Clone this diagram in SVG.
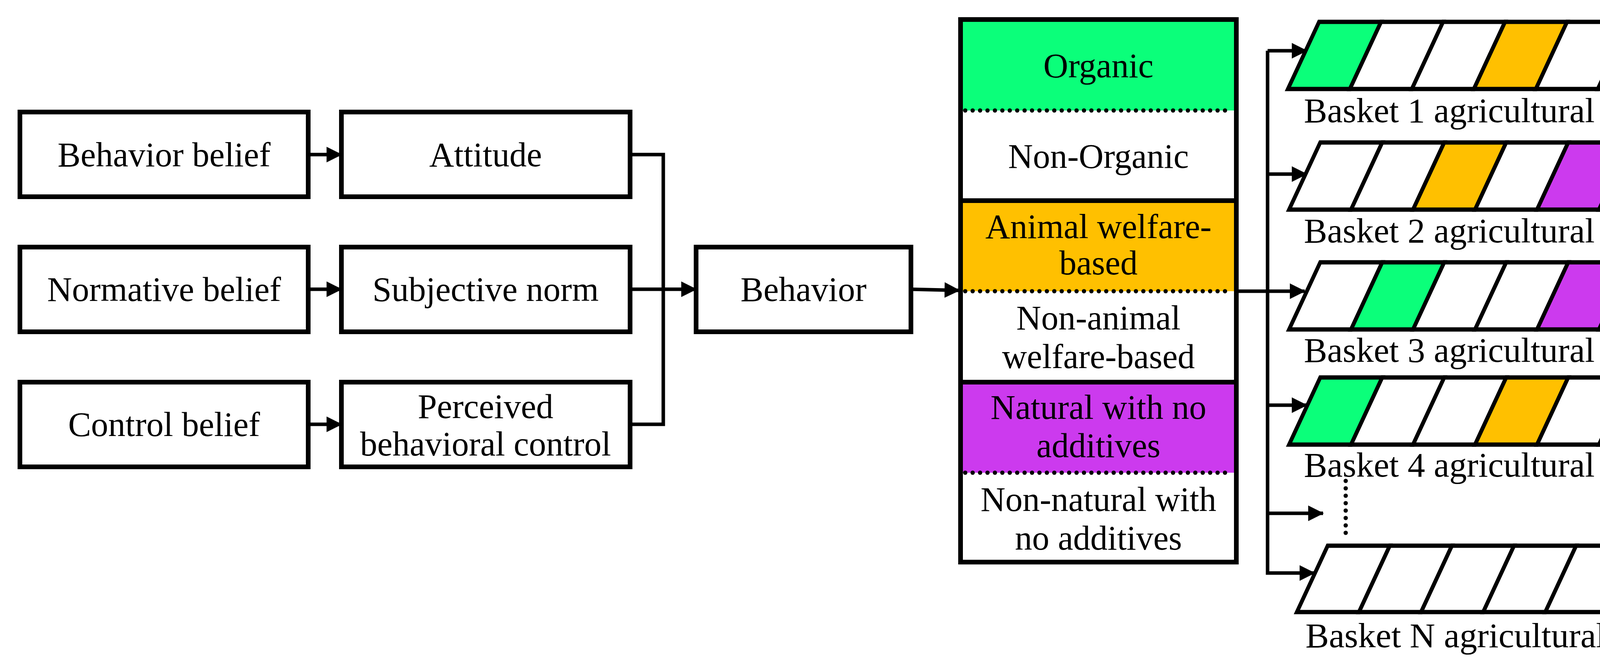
<svg xmlns="http://www.w3.org/2000/svg" width="4413" height="1719" viewBox="0 0 4413 1719">
<style>
.b{fill:#fff;stroke:#000;stroke-width:12}
.t{font-family:"Liberation Serif",serif;font-size:88px;text-anchor:middle;dominant-baseline:central;fill:#000}
.c{fill:none;stroke:#000;stroke-width:9}
.d{fill:none;stroke:#000;stroke-width:11;stroke-linecap:round;stroke-dasharray:0 19}
.cell{stroke:#000;stroke-width:11;fill:#fff}
.g{fill:#0BFF7A}.o{fill:#FFC000}.p{fill:#CC3AEE}
</style>
<defs>
<marker id="a" markerUnits="userSpaceOnUse" markerWidth="40" markerHeight="44" refX="38" refY="22" orient="auto"><path d="M0,2 L40,22 L0,42 Z" fill="#000"/></marker>
</defs>
<rect width="4413" height="1719" fill="#fff"/>
<g id="behavior-belief"><rect class="b" x="51" y="287" width="738" height="217"/><text class="t" x="420" y="396">Behavior belief</text></g>
<g id="attitude"><rect class="b" x="874" y="287" width="739" height="217"/><text class="t" x="1243" y="396">Attitude</text></g>
<g id="normative-belief"><rect class="b" x="51" y="633" width="738" height="217"/><text class="t" x="420" y="741">Normative belief</text></g>
<g id="subjective-norm"><rect class="b" x="874" y="633" width="739" height="217"/><text class="t" x="1243" y="741">Subjective norm</text></g>
<g id="control-belief"><rect class="b" x="51" y="979" width="738" height="217"/><text class="t" x="420" y="1087">Control belief</text></g>
<g id="pbc"><rect class="b" x="874" y="979" width="739" height="217"/><text class="t" x="1243" y="1041">Perceived</text><text class="t" x="1243" y="1137">behavioral control</text></g>
<g id="behavior"><rect class="b" x="1782" y="633" width="550" height="217"/><text class="t" x="2057" y="741">Behavior</text></g>
<g id="categories">
<rect x="2459" y="50" width="706" height="233" class="g"/>
<rect x="2459" y="514" width="706" height="232" class="o"/>
<rect x="2459" y="979" width="706" height="232" class="p"/>
<rect x="2459" y="50" width="706" height="1390" fill="none" stroke="#000" stroke-width="12"/>
<line x1="2459" y1="514" x2="3165" y2="514" stroke="#000" stroke-width="12"/>
<line x1="2459" y1="979" x2="3165" y2="979" stroke="#000" stroke-width="12"/>
<line class="d" x1="2471" y1="283" x2="3155" y2="283"/>
<line class="d" x1="2471" y1="746" x2="3155" y2="746"/>
<line class="d" x1="2471" y1="1211" x2="3155" y2="1211"/>
<text class="t" x="2812" y="168">Organic</text>
<text class="t" x="2812" y="400">Non-Organic</text>
<text class="t" x="2812" y="580">Animal welfare-</text>
<text class="t" x="2812" y="673">based</text>
<text class="t" x="2812" y="814">Non-animal</text>
<text class="t" x="2812" y="913">welfare-based</text>
<text class="t" x="2812" y="1043">Natural with no</text>
<text class="t" x="2812" y="1141">additives</text>
<text class="t" x="2812" y="1279">Non-natural with</text>
<text class="t" x="2812" y="1378">no additives</text>
</g>
<g id="basket1" transform="translate(3297,228) skewX(-24.9)">
<rect class="cell g" x="0" y="-172" width="158.7" height="172"/><rect class="cell" x="158.7" y="-172" width="158.7" height="172"/><rect class="cell" x="317.4" y="-172" width="158.7" height="172"/><rect class="cell o" x="476.1" y="-172" width="158.7" height="172"/><rect class="cell" x="634.8" y="-172" width="158.7" height="172"/><rect class="cell" x="793.5" y="-172" width="158.7" height="172"/>
</g>
<g id="basket2" transform="translate(3300,537) skewX(-24.9)">
<rect class="cell" x="0" y="-172" width="158.7" height="172"/><rect class="cell" x="158.7" y="-172" width="158.7" height="172"/><rect class="cell o" x="317.4" y="-172" width="158.7" height="172"/><rect class="cell" x="476.1" y="-172" width="158.7" height="172"/><rect class="cell p" x="634.8" y="-172" width="158.7" height="172"/><rect class="cell" x="793.5" y="-172" width="158.7" height="172"/>
</g>
<g id="basket3" transform="translate(3300,844) skewX(-24.9)">
<rect class="cell" x="0" y="-172" width="158.7" height="172"/><rect class="cell g" x="158.7" y="-172" width="158.7" height="172"/><rect class="cell" x="317.4" y="-172" width="158.7" height="172"/><rect class="cell" x="476.1" y="-172" width="158.7" height="172"/><rect class="cell p" x="634.8" y="-172" width="158.7" height="172"/><rect class="cell p" x="793.5" y="-172" width="158.7" height="172"/>
</g>
<g id="basket4" transform="translate(3300,1139) skewX(-24.9)">
<rect class="cell g" x="0" y="-172" width="158.7" height="172"/><rect class="cell" x="158.7" y="-172" width="158.7" height="172"/><rect class="cell" x="317.4" y="-172" width="158.7" height="172"/><rect class="cell o" x="476.1" y="-172" width="158.7" height="172"/><rect class="cell" x="634.8" y="-172" width="158.7" height="172"/><rect class="cell p" x="793.5" y="-172" width="158.7" height="172"/>
</g>
<g id="basketN" transform="translate(3320,1568) skewX(-24.9)">
<rect class="cell" x="0" y="-170" width="159" height="170"/><rect class="cell" x="159" y="-170" width="159" height="170"/><rect class="cell" x="318" y="-170" width="159" height="170"/><rect class="cell" x="477" y="-170" width="159" height="170"/><rect class="cell" x="636" y="-170" width="159" height="170"/><rect class="cell" x="795" y="-170" width="159" height="170"/>
</g>
<g id="basket-labels">
<text class="t" x="3828" y="283" textLength="980" lengthAdjust="spacingAndGlyphs">Basket 1 agricultural goods</text>
<text class="t" x="3828" y="591" textLength="980" lengthAdjust="spacingAndGlyphs">Basket 2 agricultural goods</text>
<text class="t" x="3828" y="897" textLength="980" lengthAdjust="spacingAndGlyphs">Basket 3 agricultural goods</text>
<text class="t" x="3828" y="1191" textLength="980" lengthAdjust="spacingAndGlyphs">Basket 4 agricultural goods</text>
<text class="t" x="3845" y="1628" textLength="1006" lengthAdjust="spacingAndGlyphs">Basket N agricultural goods</text>
</g>
<g id="connectors">
<line class="c" x1="789" y1="396" x2="874" y2="396" marker-end="url(#a)"/>
<line class="c" x1="789" y1="741" x2="874" y2="741" marker-end="url(#a)"/>
<line class="c" x1="789" y1="1087" x2="874" y2="1087" marker-end="url(#a)"/>
<polyline class="c" points="1613,396 1698,396 1698,1087 1613,1087"/>
<line class="c" x1="1613" y1="741" x2="1782" y2="741" marker-end="url(#a)"/>
<line class="c" x1="2332" y1="741" x2="2456" y2="744" marker-end="url(#a)"/>
<line class="c" x1="3165" y1="746" x2="3340" y2="746" marker-end="url(#a)"/>
<polyline class="c" points="3245,130 3245,1468 3365,1468" marker-end="url(#a)"/>
<line class="c" x1="3245" y1="130" x2="3345" y2="130" marker-end="url(#a)"/>
<line class="c" x1="3245" y1="446" x2="3345" y2="446" marker-end="url(#a)"/>
<line class="c" x1="3245" y1="1038" x2="3345" y2="1038" marker-end="url(#a)"/>
<line class="c" x1="3245" y1="1315" x2="3387" y2="1315" marker-end="url(#a)"/>
<line class="d" x1="3445" y1="1232" x2="3445" y2="1380"/>
</g>
</svg>
